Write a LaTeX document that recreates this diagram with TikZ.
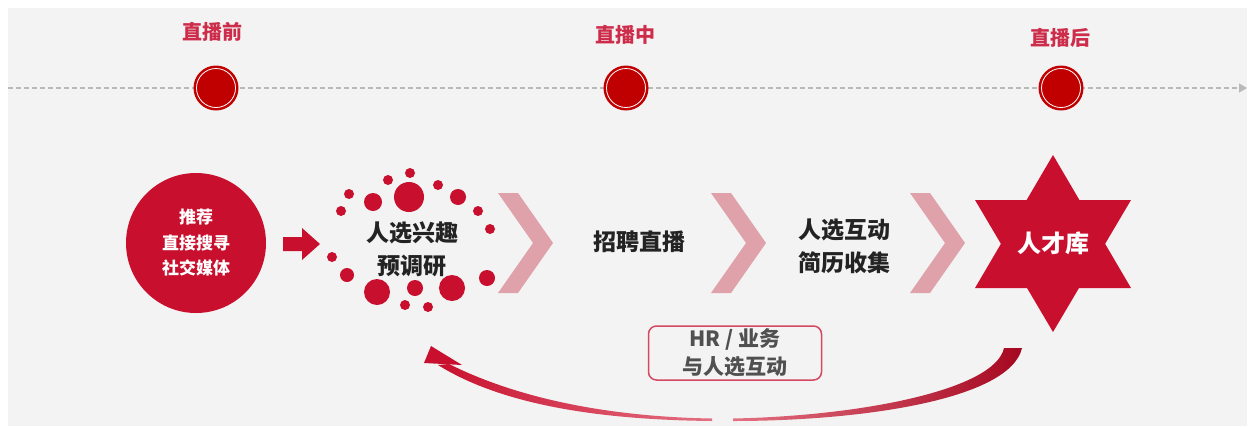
\documentclass[tikz,border=0pt]{standalone}
\usepackage{fontspec}
\setmainfont{Noto Sans CJK SC}
\usetikzlibrary{arrows.meta}
\definecolor{bg}{RGB}{243,243,243}
\definecolor{mainred}{RGB}{200,16,46}
\definecolor{darkred}{RGB}{192,0,0}
\definecolor{deepred}{RGB}{165,8,32}
\definecolor{pinkred}{RGB}{228,112,130}
\definecolor{titlered}{RGB}{205,45,75}
\definecolor{chev}{RGB}{223,162,170}
\definecolor{boxred}{RGB}{212,72,98}
\definecolor{txt}{RGB}{35,35,35}
\definecolor{boxtxt}{RGB}{80,80,80}
\definecolor{dashgray}{RGB}{185,185,185}
\begin{document}
\begin{tikzpicture}[x=1pt,y=-1pt,
  ttl/.style={text=titlered,font=\fontsize{20}{24}\selectfont\bfseries,inner sep=0pt},
  tdot/.style={circle,fill=darkred,minimum size=45pt,inner sep=0pt},
  blk/.style={text=txt,font=\fontsize{23}{33}\selectfont\bfseries,align=center,inner sep=0pt},
  chevshape/.style={fill=chev},
  dotc/.style={fill=mainred}]
\useasboundingbox (0,0) rectangle (1249,426);
\fill[white] (0,0) rectangle (1249,426);
\fill[bg] (8,8) rectangle (1247,426);

% timeline
\coordinate (tlA) at (8,88);
\coordinate (tlB) at (1247,88);
\draw[dashgray,line width=1.3pt,dash pattern=on 5pt off 3pt,-{Triangle[length=8pt,width=9pt]}] (tlA) -- (tlB);
\foreach \n/\x in {t1/216,t2/626,t3/1061}{
  \node[tdot] (\n) at (\x,88) {};
  \draw[white,line width=0.8pt] (\n.center) circle[radius=19.5pt];
}
\node[ttl] (l1) at (212,32) {直播前};
\node[ttl] (l2) at (625,35) {直播中};
\node[ttl] (l3) at (1060,38) {直播后};

% source circle
\node[circle,fill=mainred,minimum size=140pt,inner sep=0pt,text=white,
      font=\fontsize{17}{25.5}\selectfont\bfseries,align=center] (src) at (196,243)
      {推荐\\直接搜寻\\社交媒体};

% block arrow
\fill[mainred] (283,237) -- (302,237) -- (302,228) -- (320,244) -- (302,260) -- (302,251) -- (283,251) -- cycle;

% dots ring
\foreach \x/\y/\r in {410/173/5, 388/180/5, 409/197/15, 438/185/5, 458/197/8,
  373/202/9, 349/194/5, 341/211/5, 478/211/5, 490/229/5, 332/257/5, 347/275/7,
  377/292/13, 415/288/8, 452/288/13, 487/278/8, 405/305/5, 428/307/5}{
  \fill[dotc] (\x,\y) circle[radius=\r pt];
}
\node[blk] (surv) at (412,249) {人选兴趣\\预调研};

% chevrons
\foreach \x in {498,711,910}{
  \fill[chevshape] (\x,193) -- (\x+20,193) -- (\x+55,243) -- (\x+20,293) -- (\x,293) -- (\x+35,243) -- cycle;
}
\node[blk] (live) at (639,242) {招聘直播};
\node[blk] (inter) at (844,246) {人选互动\\简历收集};

% star
\fill[mainred] (1053,155) -- (975,288) -- (1131,288) -- cycle;
\fill[mainred] (1053,332) -- (975,200) -- (1131,200) -- cycle;
\node[text=white,font=\fontsize{24}{28}\selectfont\bfseries,inner sep=0pt] (pool) at (1053,243) {人才库};

% HR box
\node[draw=boxred,line width=1.5pt,rounded corners=8pt,minimum width=173pt,minimum height=54pt,
      align=center,text=boxtxt,font=\fontsize{21}{28}\selectfont\bfseries,inner sep=0pt] (hr) at (735,353)
      {HR / 业务\\与人选互动};

% return arc
\shade[left color=pinkred,right color=deepred]
  (733,421) .. controls (860,421) and (1010,400) .. (1022,348) -- (1004,348)
  .. controls (995,390) and (860,416) .. (733,418.5) -- cycle;
\shade[left color=mainred,right color=pinkred]
  (438,365) .. controls (510,410) and (620,420) .. (712,421) -- (712,418.5)
  .. controls (620,417) and (525,402) .. (449,364) -- cycle;
\fill[mainred] (431,346) -- (462,365) -- (424,363) -- cycle;
\end{tikzpicture}
\end{document}
